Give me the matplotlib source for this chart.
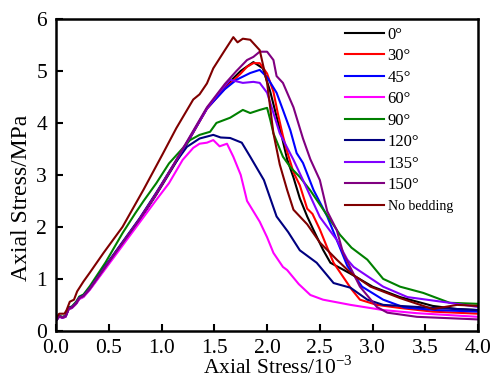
import matplotlib
matplotlib.use('Agg')
import matplotlib.pyplot as plt

plt.rcParams['font.family'] = ['Liberation Serif', 'DejaVu Serif']
plt.rcParams['mathtext.fontset'] = 'stix'

# strain (10^-3) / stress (MPa)
x_0 = [0, 0.03, 0.06, 0.09, 0.12, 0.15, 0.19, 0.22, 0.26, 0.32, 0.47, 0.63, 0.79, 0.95, 1.1, 1.2, 1.43, 1.6, 1.75, 1.87,
       1.96, 2.03, 2.08, 2.14, 2.19, 2.25, 2.31, 2.38, 2.44, 2.53, 2.6, 2.7, 2.79, 3.0, 3.26, 3.57, 3.8, 4.0]
y_0 = [0.2, 0.28, 0.25, 0.27, 0.42, 0.44, 0.52, 0.62, 0.66, 0.8, 1.22, 1.67, 2.12, 2.62, 3.12, 3.46, 4.28, 4.7, 5.0, 5.17,
       5.05, 4.6, 4.2, 3.73, 3.3, 2.95, 2.55, 2.2, 1.94, 1.56, 1.31, 1.2, 1.1, 0.85, 0.65, 0.48, 0.42, 0.4]

x_30 = [0, 0.03, 0.06, 0.09, 0.12, 0.15, 0.19, 0.22, 0.26, 0.32, 0.47, 0.63, 0.79, 0.95, 1.1, 1.2, 1.43, 1.6, 1.75, 1.81,
        1.87, 1.93, 2.0, 2.06, 2.1, 2.15, 2.19, 2.25, 2.31, 2.38, 2.43, 2.5, 2.57, 2.63, 2.72, 2.8, 2.88, 3.04, 3.26,
        3.57, 4.0]
y_30 = [0.2, 0.29, 0.26, 0.28, 0.43, 0.45, 0.53, 0.63, 0.67, 0.81, 1.24, 1.69, 2.14, 2.64, 3.14, 3.47, 4.27, 4.66, 4.95,
        5.08, 5.15, 5.15, 4.95, 4.6, 4.2, 3.75, 3.45, 3.05, 2.8, 2.35, 2.25, 1.95, 1.6, 1.31, 1.04, 0.8, 0.6, 0.5, 0.44,
        0.37, 0.33]

x_45 = [0, 0.03, 0.06, 0.09, 0.12, 0.15, 0.19, 0.22, 0.26, 0.32, 0.47, 0.63, 0.79, 0.95, 1.1, 1.2, 1.43, 1.6, 1.71, 1.84,
        1.93, 2.0, 2.09, 2.15, 2.22, 2.28, 2.34, 2.44, 2.57, 2.69, 2.76, 2.9, 3.1, 3.3, 3.6, 4.0]
y_45 = [0.2, 0.28, 0.26, 0.28, 0.43, 0.45, 0.53, 0.63, 0.67, 0.81, 1.24, 1.69, 2.14, 2.64, 3.14, 3.48, 4.28, 4.65, 4.83,
        4.96, 5.02, 4.88, 4.58, 4.25, 3.86, 3.42, 3.23, 2.71, 2.2, 1.6, 1.25, 0.85, 0.6, 0.45, 0.4, 0.37]

x_60 = [0, 0.03, 0.06, 0.09, 0.12, 0.15, 0.19, 0.22, 0.26, 0.32, 0.47, 0.63, 0.79, 0.95, 1.07, 1.2, 1.3, 1.36, 1.43,
        1.49, 1.55, 1.62, 1.68, 1.75, 1.81, 1.93, 2.0, 2.06, 2.15, 2.19, 2.3, 2.41, 2.53, 2.79, 3.1, 3.42, 4.0]
y_60 = [0.2, 0.27, 0.25, 0.27, 0.42, 0.44, 0.52, 0.61, 0.65, 0.79, 1.2, 1.64, 2.08, 2.52, 2.84, 3.29, 3.52, 3.6, 3.62,
        3.67, 3.55, 3.6, 3.35, 3.0, 2.5, 2.1, 1.8, 1.5, 1.23, 1.17, 0.9, 0.69, 0.6, 0.5, 0.4, 0.34, 0.27]

x_90 = [0, 0.03, 0.06, 0.09, 0.12, 0.15, 0.19, 0.22, 0.26, 0.32, 0.47, 0.63, 0.75, 0.83, 0.95, 1.07, 1.27, 1.36, 1.46,
        1.52, 1.65, 1.77, 1.84, 1.93, 2.0, 2.03, 2.06, 2.15, 2.22, 2.31, 2.41, 2.57, 2.69, 2.8, 2.95, 3.1, 3.26, 3.48,
        3.73, 4.0]
y_90 = [0.2, 0.29, 0.27, 0.29, 0.45, 0.47, 0.56, 0.66, 0.7, 0.86, 1.32, 1.88, 2.26, 2.5, 2.84, 3.22, 3.67, 3.77, 3.83,
        4.0, 4.1, 4.25, 4.19, 4.25, 4.29, 4.06, 3.8, 3.35, 3.15, 2.96, 2.7, 2.22, 1.85, 1.6, 1.37, 1.0, 0.85, 0.73, 0.54,
        0.52]

x_120 = [0, 0.03, 0.06, 0.09, 0.12, 0.15, 0.19, 0.22, 0.26, 0.32, 0.47, 0.63, 0.79, 0.95, 1.1, 1.24, 1.36, 1.49, 1.56,
         1.65, 1.76, 1.84, 1.97, 2.09, 2.2, 2.31, 2.47, 2.63, 2.79, 2.95, 3.1, 3.5, 4.0]
y_120 = [0.2, 0.28, 0.26, 0.28, 0.44, 0.46, 0.54, 0.64, 0.68, 0.82, 1.26, 1.71, 2.16, 2.66, 3.15, 3.54, 3.7, 3.77, 3.72,
         3.71, 3.62, 3.35, 2.9, 2.2, 1.9, 1.55, 1.31, 0.92, 0.83, 0.6, 0.5, 0.45, 0.4]

x_135 = [0, 0.03, 0.06, 0.09, 0.12, 0.15, 0.19, 0.22, 0.26, 0.32, 0.47, 0.63, 0.79, 0.95, 1.1, 1.2, 1.43, 1.55, 1.65,
         1.77, 1.87, 1.93, 2.0, 2.06, 2.12, 2.25, 2.34, 2.5, 2.66, 2.76, 2.82, 3.1, 3.33, 3.73, 4.0]
y_135 = [0.2, 0.28, 0.26, 0.28, 0.43, 0.45, 0.53, 0.63, 0.67, 0.81, 1.24, 1.69, 2.14, 2.64, 3.15, 3.49, 4.28, 4.6, 4.83,
         4.77, 4.79, 4.77, 4.58, 4.19, 3.8, 3.29, 2.9, 2.19, 1.75, 1.37, 1.23, 0.85, 0.65, 0.54, 0.46]

x_150 = [0, 0.03, 0.06, 0.09, 0.12, 0.15, 0.19, 0.22, 0.26, 0.32, 0.47, 0.63, 0.79, 0.95, 1.1, 1.2, 1.43, 1.6, 1.71, 1.81,
         1.87, 1.93, 2.0, 2.06, 2.09, 2.15, 2.25, 2.34, 2.41, 2.5, 2.57, 2.66, 2.72, 2.88, 3.04, 3.14, 3.42, 4.0]
y_150 = [0.2, 0.28, 0.26, 0.28, 0.43, 0.45, 0.53, 0.63, 0.67, 0.81, 1.24, 1.69, 2.14, 2.64, 3.15, 3.5, 4.3, 4.75, 5.0,
         5.21, 5.27, 5.37, 5.37, 5.21, 4.9, 4.77, 4.3, 3.7, 3.3, 2.9, 2.3, 1.94, 1.5, 0.85, 0.46, 0.35, 0.27, 0.22]

x_nb = [0, 0.03, 0.08, 0.1, 0.13, 0.17, 0.2, 0.26, 0.32, 0.45, 0.63, 0.83, 1.01, 1.14, 1.3, 1.36, 1.43, 1.49, 1.6, 1.68,
        1.72, 1.77, 1.84, 1.93, 2.0, 2.06, 2.12, 2.19, 2.25, 2.38, 2.5, 2.66, 2.8, 2.98, 3.26, 3.57, 3.8, 4.0]
y_nb = [0.25, 0.33, 0.33, 0.4, 0.56, 0.6, 0.76, 0.95, 1.12, 1.5, 2.0, 2.72, 3.4, 3.9, 4.45, 4.55, 4.76, 5.05, 5.4, 5.65,
        5.55, 5.62, 5.6, 5.4, 4.77, 3.8, 3.2, 2.71, 2.33, 2.05, 1.7, 1.37, 1.1, 0.85, 0.63, 0.42, 0.5, 0.48]

labels = ['0°', '30°', '45°', '60°', '90°', '120°', '135°', '150°', 'No bedding']
colors = ['black', '#ff0000', '#0000ff', '#ff00ff', '#008000', '#000080', '#8000ff', '#800080', '#800000']
xs = [x_0, x_30, x_45, x_60, x_90, x_120, x_135, x_150, x_nb]
ys = [y_0, y_30, y_45, y_60, y_90, y_120, y_135, y_150, y_nb]

fig = plt.figure(figsize=(4.96, 3.79), dpi=100)
ax = fig.add_axes([0.113, 0.127, 0.851, 0.823])

for x, y, c, lab in zip(xs, ys, colors, labels):
    ax.plot(x, y, color=c, lw=1.5, label=lab)

ax.set_xlim(0, 4)
ax.set_ylim(0, 6)
ax.set_xticks([0, 0.5, 1.0, 1.5, 2.0, 2.5, 3.0, 3.5, 4.0])
ax.set_xticklabels(['0.0', '0.5', '1.0', '1.5', '2.0', '2.5', '3.0', '3.5', '4.0'])
ax.set_yticks([0, 1, 2, 3, 4, 5, 6])

ax.tick_params(direction='in', length=5, width=1.5, labelsize=15.5)
ax.tick_params(axis='x', pad=5.5)
ax.tick_params(axis='y', pad=6.5)
for s in ax.spines.values():
    s.set_linewidth(1.8)

ax.set_xlabel('Axial Stress/10$^{\\mathregular{-3}}$', fontsize=15.5, va='top')
ax.xaxis.set_label_coords(0.525, -0.083)
ax.set_ylabel('Axial Stress/MPa', fontsize=17)
ax.yaxis.set_label_coords(-0.057, 0.426)

leg = ax.legend(loc='upper left', frameon=False, fontsize=12, handlelength=2.3, handletextpad=0.25,
                labelspacing=0.33, borderpad=0, borderaxespad=0, bbox_to_anchor=(0.685, 0.975))
leg.get_texts()[-1].set_fontsize(10)

fig.savefig('out.png', dpi=100)
